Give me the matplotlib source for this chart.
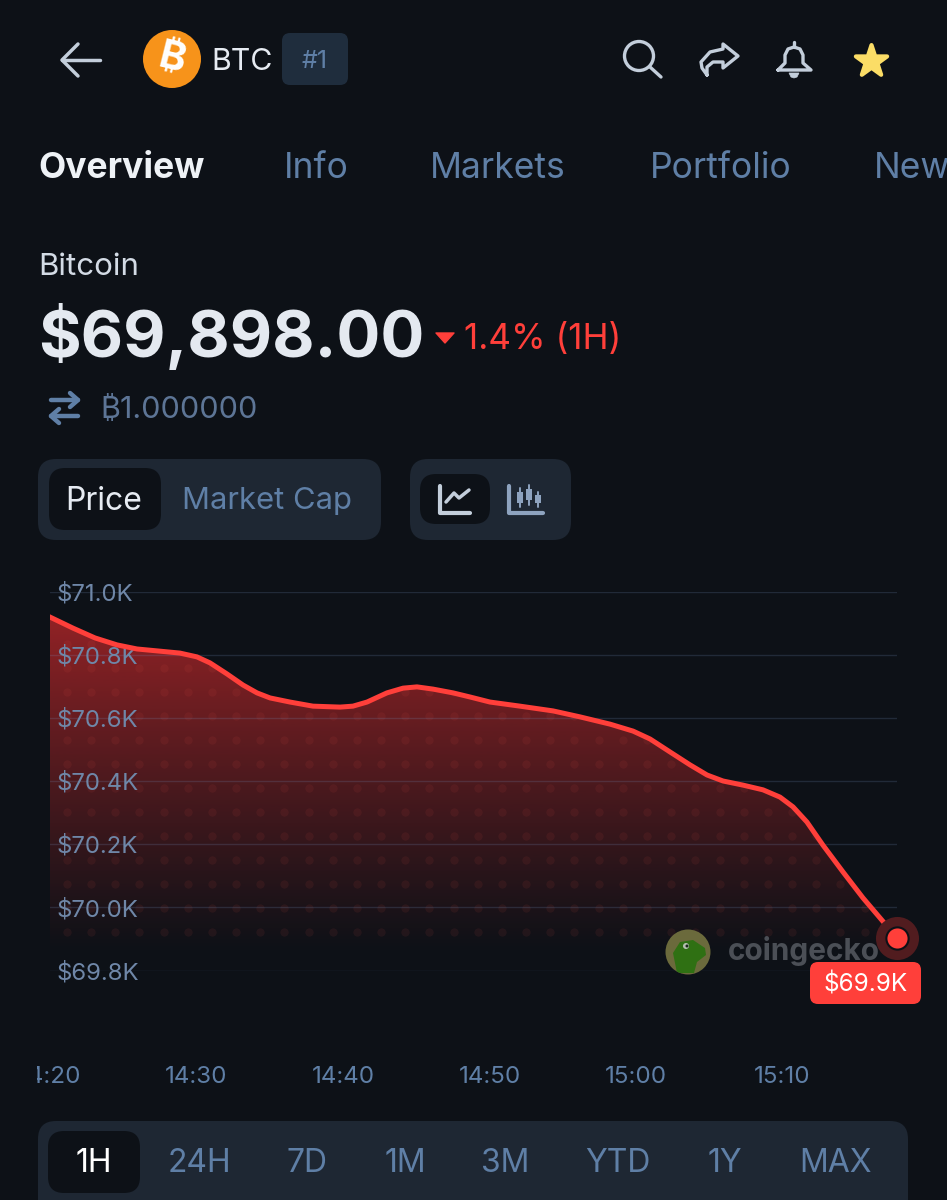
import matplotlib
matplotlib.use("Agg")
import matplotlib.pyplot as plt
import numpy as np
from matplotlib.patches import Circle, FancyBboxPatch, Polygon, Rectangle
from matplotlib.transforms import Bbox

plt.rcParams["font.family"] = ["Inter", "Noto Sans", "DejaVu Sans"]

# minutes after 14:20, price in USD
minutes = [0, 1.57, 3.07, 4.57, 5.94, 7.30, 8.87, 10.03, 10.92, 12.08, 13.17, 14.13, 15.02, 16.38, 17.95,
           19.80, 20.68, 21.64, 23.00, 24.10, 25.05, 26.14, 27.51, 28.67, 30.03, 32.08, 34.33, 36.18,
           38.23, 39.80, 40.96, 42.32, 43.69, 44.85, 45.94, 47.30, 48.67, 49.83, 50.72, 51.67, 52.76,
           54.13, 55.49, 57.82]
prices = [70919, 70884, 70853, 70831, 70818, 70812, 70805, 70793, 70774, 70739, 70704, 70679, 70663, 70650, 70637,
          70634, 70637, 70650, 70679, 70694, 70698, 70691, 70679, 70666, 70650, 70637, 70622, 70603,
          70580, 70558, 70533, 70492, 70451, 70419, 70400, 70387, 70372, 70349, 70318, 70270, 70197,
          70112, 70030, 69903]

price_ticks = [71000, 70800, 70600, 70400, 70200, 70000, 69800]
price_labels = ["$71.0K", "$70.8K", "$70.6K", "$70.4K", "$70.2K", "$70.0K", "$69.8K"]
time_ticks = [0, 10, 20, 30, 40, 50]
time_labels = ["14:20", "14:30", "14:40", "14:50", "15:00", "15:10"]

tabs = ["Overview", "Info", "Markets", "Portfolio", "News"]
tab_x = [38, 284, 430, 650, 874]
ranges = ["1H", "24H", "7D", "1M", "3M", "YTD", "1Y", "MAX"]
range_x = [94, 199, 307, 405, 505, 618, 725, 835]

BG = "#0d1117"
PANEL = "#1e2733"
PILL = "#0d1117"
BLUE = "#5f7fa6"
WHITE = "#e6ebf2"
ICON = "#c3cedb"
RED = "#ff3f3a"

W, H = 947, 1200
fig = plt.figure(figsize=(W / 100, H / 100), dpi=100, facecolor=BG)

# chart area, pixel box from the screenshot
x0, x1, y_top, y_bot = 50, 897, 591.5, 970.5
ax = fig.add_axes([x0 / W, 1 - y_bot / H, (x1 - x0) / W, (y_bot - y_top) / H], facecolor="none")
xmax = (x1 - x0) / 14.65
for s in ax.spines.values():
    s.set_visible(False)

ax.set_yticks(price_ticks, price_labels)
ax.set_xticks(time_ticks, time_labels)
ax.grid(axis="y", color="#7390c0", alpha=0.2, lw=1)
ax.tick_params(axis="y", length=0, pad=-5, labelsize=17.2, labelcolor="#6f87a8")
ax.tick_params(axis="x", length=0, pad=68.7, labelsize=17.4, labelcolor=BLUE)
for lab in ax.get_yticklabels():
    lab.set_horizontalalignment("left")
for lab in ax.get_xticklabels():
    lab.set_clip_box(Bbox([[37, 0], [W, H]]))
    lab.set_clip_on(True)

# gradient under the line
rgba = np.zeros((256, 1, 4))
rgba[..., 0] = 0.60
rgba[..., 1] = 0.14
rgba[..., 2] = 0.15
rgba[..., 3] = np.linspace(1, 0, 256).reshape(-1, 1) ** 1.1 * 0.98
im = ax.imshow(rgba, extent=[0, xmax, 69850, 70950], aspect="auto", zorder=0.5)
ax.set_xlim(0, xmax)
ax.set_ylim(69800, 71000)
area = Polygon(list(zip(minutes, prices)) + [(minutes[-1], 69800), (0, 69800)],
               transform=ax.transData, fc="none", ec="none")
ax.add_patch(area)
im.set_clip_path(area)

# dot texture
dx, dy = np.meshgrid(np.arange(1.15, 60, 1.65), np.arange(69922, 70850, 76))
dots = ax.scatter(dx.ravel(), dy.ravel(), s=36, color="#ff5a50", alpha=0.07, lw=0, zorder=0.6)
dots.set_clip_path(area)

ax.plot(minutes, prices, color=RED, lw=3.6, solid_capstyle="projecting", solid_joinstyle="round", zorder=3)
ax.plot(minutes[-1], prices[-1], "o", ms=31, color="#511c1f", mew=0, clip_on=False, zorder=5)
ax.plot(minutes[-1], prices[-1], "o", ms=16, color=RED, mec="#0d1117", mew=1.5, clip_on=False, zorder=6)

# everything else sits on a full figure overlay in pixel coordinates
ui = fig.add_axes([0, 0, 1, 1], facecolor="none")
ui.set_xlim(0, W)
ui.set_ylim(H, 0)
ui.axis("off")


def txt(x, y, s, size, color=WHITE, ha="left", weight="normal", **kw):
    # centre alignment sits about 2 px high with this font
    ui.text(x, y + 2, s, fontsize=size, color=color, ha=ha, va="center", weight=weight, **kw)


def box(x_a, y_a, x_b, y_b, r, color):
    ui.add_patch(FancyBboxPatch((x_a + r, y_a + r), x_b - x_a - 2 * r, y_b - y_a - 2 * r,
                                boxstyle=f"round,pad={r},rounding_size={r}", fc=color, ec="none"))


def stroke(xs, ys, color=ICON, lw=2.5):
    ui.plot(xs, ys, color=color, lw=lw, solid_capstyle="round", solid_joinstyle="round")


# header
stroke([62, 100], [60, 60])
stroke([78, 62, 78], [44, 60, 76])
ui.add_patch(Circle((172, 59), 29, fc="#f7931a", ec="none"))
txt(172, 58, "₿", 29, "white", ha="center", weight="bold", rotation=-14)
txt(211, 60, "BTC", 21.8, WHITE)
box(282, 33, 348, 85, 8, "#1f2d3d")
txt(315, 60, "#1", 18, BLUE, ha="center")

# search, share, bell, star
ui.add_patch(Circle((639, 56), 14.5, fc="none", ec=ICON, lw=2.4))
stroke([650, 661], [67, 77], ICON, 2.4)
stroke([707, 702, 701, 710, 723, 723, 738, 723, 723, 713, 707, 707],
       [75, 68, 62, 52, 49, 44, 56, 68, 62, 62, 67, 75], ICON, 2.4)
stroke([778, 785, 785, 788, 794, 800, 803, 803, 811, 778], [70, 63, 55, 49, 47, 49, 55, 63, 70, 70], ICON, 2.4)
stroke([794, 794], [42, 47], ICON, 2.4)
ui.add_patch(Polygon([(789, 73), (799, 73), (797, 77), (794, 78), (791, 77)], fc=ICON, ec=ICON, lw=0.5))
ui.scatter([871], [61], s=560, marker="*", color="#fbdd66", edgecolors="#fbdd66", linewidths=3)

# tabs
for i, (t, tx) in enumerate(zip(tabs, tab_x)):
    if i == 0:
        txt(tx, 167, t, 25.5, "#eef2f6", weight="bold")
    else:
        txt(tx, 167, t, 25.5, BLUE)

# coin info
txt(38, 265, "Bitcoin", 22.5, "#d3dbe5")
txt(38, 335, "$69,898.00", 47, "#e4e9f0", weight="bold")
ui.add_patch(Polygon([(436, 333), (454, 333), (445, 343)], fc=RED, ec=RED, lw=1, joinstyle="round"))
txt(464, 337, "1.4% (1H)", 25.3, RED)
stroke([51, 78], [400, 400], BLUE, 3.2)
stroke([70, 78, 70], [393, 400, 407], BLUE, 3.2)
stroke([51, 78], [416, 416], BLUE, 3.2)
stroke([59, 51, 59], [409, 416, 423], BLUE, 3.2)
txt(100, 408, "₿1.000000", 22, "#5d7596")

# price / market cap switch
box(38, 459, 381, 540, 18, PANEL)
box(49, 468, 161, 530, 16, PILL)
txt(104, 499, "Price", 23, WHITE, ha="center")
txt(182, 499, "Market Cap", 22.3, BLUE)
box(410, 459, 571, 540, 18, PANEL)
box(420, 474, 490, 524, 16, PILL)
stroke([440, 440, 470], [486, 513, 513], ICON, 3)
stroke([446, 454, 459, 469], [502, 493, 498, 490], ICON, 2.5)
stroke([509, 509, 543], [486, 513, 513], "#8ea3bf", 3)
for cx, a, b, c, d in [(520, 488, 492, 503, 507), (529, 485, 489, 500, 505), (537.5, 492, 495, 503, 507)]:
    stroke([cx, cx], [a, d], "#8ea3bf", 1.4)
    ui.add_patch(Rectangle((cx - 3, b), 6, c - b, fc="#8ea3bf", ec="none"))

# watermark
badge = Circle((688, 952), 22.5, fc="#6b6a3c", ec="none", zorder=1)
ui.add_patch(badge)
gecko = Polygon([(677, 973), (673, 953), (680, 942), (693, 940), (705, 948), (706, 955), (697, 962), (694, 973)],
                fc="#2f7013", ec="none", zorder=1.1)
ui.add_patch(gecko)
gecko.set_clip_path(badge)
ui.add_patch(Circle((686, 946), 3, fc="#b5bfb0", ec="none", zorder=1.2))
ui.add_patch(Circle((687, 946), 1.5, fc="#1a2a1a", ec="none", zorder=1.3))
txt(728, 949, "coingecko", 21.5, "#4b4f56", weight="bold", zorder=1)

# last value tag
box(810, 962, 921, 1004, 8, RED)
txt(865.5, 983, "$69.9K", 17.5, "white", ha="center")

# range selector
box(38, 1121, 908, 1240, 18, PANEL)
box(48, 1131, 140, 1193, 16, PILL)
for i, (t, tx) in enumerate(zip(ranges, range_x)):
    txt(tx, 1161, t, 23, "white" if i == 0 else BLUE, ha="center")

fig.savefig("out.png", dpi=100, facecolor=BG)
